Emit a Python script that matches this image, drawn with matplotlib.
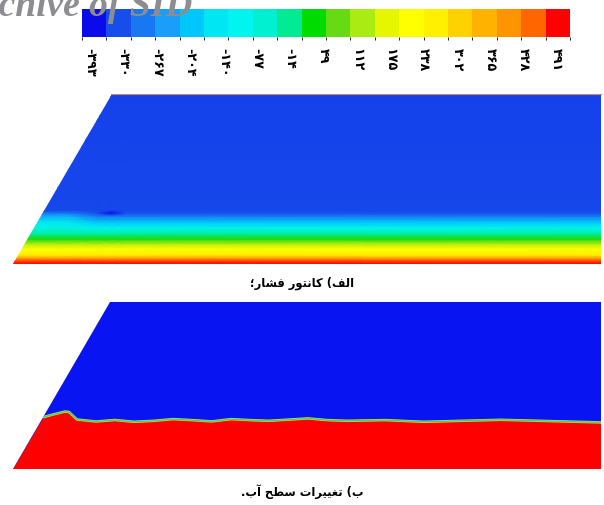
import numpy as np
import matplotlib
matplotlib.use("Agg")
import matplotlib.pyplot as plt
from matplotlib.colors import ListedColormap, LinearSegmentedColormap, BoundaryNorm, Normalize
from matplotlib.cm import ScalarMappable
from matplotlib.patches import Polygon

# ---- legend bar: 20 colour bands and its labelled pressure values ----
band_colors = [
    (0.04, 0.04, 0.92), (0.09, 0.30, 0.92), (0.09, 0.47, 0.95), (0.10, 0.62, 0.98),
    (0.00, 0.78, 0.98), (0.00, 0.90, 0.95), (0.00, 0.96, 0.94), (0.00, 0.94, 0.82),
    (0.00, 0.92, 0.58), (0.00, 0.86, 0.00), (0.40, 0.86, 0.08), (0.67, 0.92, 0.08),
    (0.90, 0.96, 0.00), (1.00, 1.00, 0.00), (1.00, 0.94, 0.00), (1.00, 0.82, 0.00),
    (1.00, 0.70, 0.00), (1.00, 0.58, 0.00), (1.00, 0.40, 0.00), (1.00, 0.00, 0.00),
]
p_min, p_max = -408.0, 516.0
tick_values = [-393, -330, -267, -204, -140, -77, -14, 49, 112, 175, 238, 302, 365, 428, 491]

# ---- channel geometry (m) ----
channel_length = 58.8
height_a = 17.0
height_b = 16.7
wall_run = 0.582          # horizontal run of the inclined wall per unit height

# ---- (a) pressure over height above the bed, at stations along the channel ----
profile_height = [0.0, 0.3, 0.6, 0.9, 1.5, 2.0, 2.5, 3.0, 3.6, 4.2, 4.8, 5.1, 5.4, 17.0]
profile_x = [0.0, 5.5, 8.4, 9.8, 11.2, 58.8]
pressure_near_wall = [491, 465, 380, 270, 215, 130, 45, -20, -90, -150, -230, -290, -342, -345]
pressure_channel = [491, 465, 380, 270, 215, 130, 45, -20, -100, -200, -290, -330, -342, -345]
pressure_eddy = [491, 465, 380, 270, 215, 130, 45, -20, -100, -200, -290, -400, -342, -345]

# ---- (b) free-surface elevation along the channel ----
surface_x = [3.08, 4.0, 5.2, 5.6, 6.4, 8.3, 10.2, 12.1, 14.1, 16.0, 17.9, 19.9, 21.8,
             23.7, 25.6, 29.5, 31.4, 33.4, 37.2, 41.1, 44.9, 48.8, 52.6, 56.5, 58.8]
surface_h = [5.2, 5.45, 5.75, 5.7, 4.95, 4.75, 4.9, 4.72, 4.82, 4.99, 4.89, 4.76, 4.99,
             4.89, 4.82, 5.06, 4.89, 4.82, 4.89, 4.72, 4.82, 4.92, 4.82, 4.72, 4.66]

caption_a = "الف) کانتور فشار؛"
caption_b = "ب) تغییرات سطح آب."


# Arabic-script contextual forms: isolated, final, initial, medial
FORMS = {
    'ا': ('\uFE8D', '\uFE8E', None, None),
    'آ': ('\uFE81', '\uFE82', None, None),
    'ل': ('\uFEDD', '\uFEDE', '\uFEDF', '\uFEE0'),
    'ف': ('\uFED1', '\uFED2', '\uFED3', '\uFED4'),
    'ک': ('\uFB8E', '\uFB8F', '\uFB90', '\uFB91'),
    'ن': ('\uFEE5', '\uFEE6', '\uFEE7', '\uFEE8'),
    'ت': ('\uFE95', '\uFE96', '\uFE97', '\uFE98'),
    'و': ('\uFEED', '\uFEEE', None, None),
    'ر': ('\uFEAD', '\uFEAE', None, None),
    'ش': ('\uFEB5', '\uFEB6', '\uFEB7', '\uFEB8'),
    'ب': ('\uFE8F', '\uFE90', '\uFE91', '\uFE92'),
    'غ': ('\uFECD', '\uFECE', '\uFECF', '\uFED0'),
    'ی': ('\uFBFC', '\uFBFD', '\uFBFE', '\uFBFF'),
    'س': ('\uFEB1', '\uFEB2', '\uFEB3', '\uFEB4'),
    'ط': ('\uFEC1', '\uFEC2', '\uFEC3', '\uFEC4'),
    'ح': ('\uFEA1', '\uFEA2', '\uFEA3', '\uFEA4'),
}


def shape_rtl(text):
    out = []
    for i, ch in enumerate(text):
        if ch not in FORMS:
            out.append(ch)
            continue
        prev = text[i - 1] if i > 0 else None
        nxt = text[i + 1] if i < len(text) - 1 else None
        iso, fin, ini, med = FORMS[ch]
        j_prev = prev in FORMS and FORMS[prev][2] is not None
        j_next = nxt in FORMS and ini is not None
        if j_prev and j_next:
            out.append(med)
        elif j_prev:
            out.append(fin)
        elif j_next:
            out.append(ini)
        else:
            out.append(iso)
    mirror = {'(': ')', ')': '('}
    return ''.join(mirror.get(c, c) for c in reversed(out))


def persian_number(v):
    return str(v).translate(str.maketrans('0123456789', '۰۱۲۳۴۵۶۷۸۹'))


W, H = 604, 506
fig = plt.figure(figsize=(W / 100, H / 100), dpi=100)
fig.patch.set_facecolor('white')


def px_axes(x0, y0, x1, y1):
    return fig.add_axes([x0 / W, 1 - y1 / H, (x1 - x0) / W, (y1 - y0) / H])


band_cmap = ListedColormap(band_colors)
edges = np.linspace(p_min, p_max, len(band_colors) + 1)
pos = [0.0] + [(i + 0.5) / len(band_colors) for i in range(len(band_colors))] + [1.0]
cols = [band_colors[0]] + band_colors + [band_colors[-1]]
field_cmap = LinearSegmentedColormap.from_list('field', list(zip(pos, cols)))

# ---- legend bar ----
ax_cb = px_axes(82, 10, 570, 38)
cb = fig.colorbar(ScalarMappable(norm=BoundaryNorm(edges, len(band_colors)), cmap=band_cmap),
                  cax=ax_cb, orientation='horizontal')
cb.outline.set_visible(False)
cb.set_ticks(tick_values)
cb.set_ticklabels([persian_number(v) for v in tick_values])
ax_cb.tick_params(axis='x', length=0, pad=7, labelsize=9.2, labelrotation=270)
for t in ax_cb.get_xticklabels():
    t.set_fontfamily(['DejaVu Sans'])
    t.set_fontweight('bold')

# ---- (a) pressure contour ----
ax_a = px_axes(13, 95, 601, 265)
ax_a.set_xlim(0, channel_length)
ax_a.set_ylim(0, height_a)
ax_a.axis('off')
trap_a = Polygon([(0, 0), (channel_length, 0), (channel_length, height_a),
                  (wall_run * height_a, height_a)], closed=True,
                 facecolor='none', edgecolor='none')
ax_a.add_patch(trap_a)
Ca = np.column_stack([pressure_near_wall, pressure_near_wall, pressure_channel,
                      pressure_eddy, pressure_channel, pressure_channel]).astype(float)
mesh = ax_a.pcolormesh(np.array(profile_x), np.array(profile_height), Ca,
                       shading='gouraud', cmap=field_cmap, norm=Normalize(p_min, p_max))
mesh.set_clip_path(trap_a)
ax_a.plot([wall_run * height_a, channel_length], [height_a, height_a],
          color='#c88878', lw=0.8, clip_on=False)

# ---- (b) water surface ----
ax_b = px_axes(13, 303, 601, 470)
ax_b.set_xlim(0, channel_length)
ax_b.set_ylim(0, height_b)
ax_b.axis('off')
trap_b = Polygon([(0, 0), (channel_length, 0), (channel_length, height_b),
                  (wall_run * height_b, height_b)], closed=True,
                 facecolor=(0.03, 0.08, 0.95), edgecolor='none')
ax_b.add_patch(trap_b)
water = Polygon([(0, 0)] + list(zip(surface_x, surface_h)) + [(channel_length, 0)],
                closed=True, facecolor=(1.0, 0.0, 0.0), edgecolor='none')
ax_b.add_patch(water)
water.set_clip_path(trap_b)
ln1, = ax_b.plot(surface_x, surface_h, color=(0.95, 0.85, 0.0), lw=1.8)
ln2, = ax_b.plot(surface_x, surface_h, color=(0.1, 0.85, 0.6), lw=0.9)
ln1.set_clip_path(trap_b)
ln2.set_clip_path(trap_b)

# ---- captions ----
for txt, y in [(caption_a, 283), (caption_b, 492)]:
    fig.text(302 / W, 1 - y / H, shape_rtl(txt), ha='center', va='center',
             fontsize=8.3, fontweight='bold', family=['DejaVu Sans'])

# ---- watermark ----
fig.text(193 / W, 1 - 16 / H, "Archive of SID", ha='right', va='baseline',
         fontsize=27, fontweight='bold', style='italic', family=['Liberation Serif'],
         color=(0.55, 0.55, 0.57))

fig.savefig('out.png', dpi=100, facecolor='white')
